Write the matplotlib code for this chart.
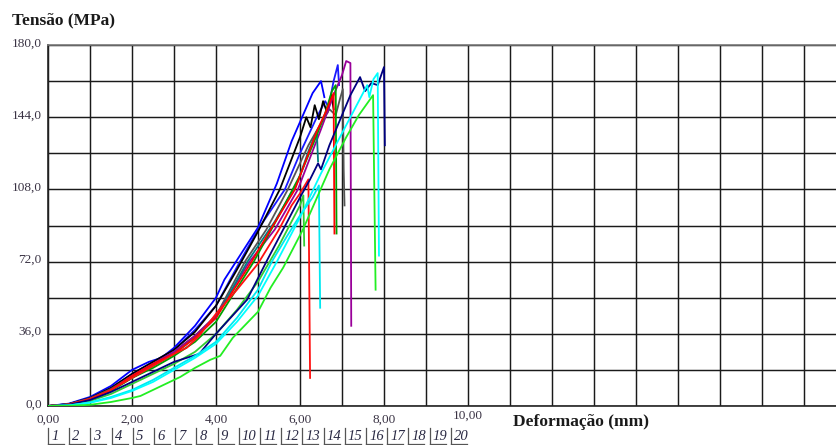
"""
Stress vs. deformation curves (Tensão x Deformação), replotted from a
testing-machine screenshot. One curve per specimen, values read off the image.
"""
import matplotlib
matplotlib.use("Agg")
import matplotlib.pyplot as plt
from matplotlib.ticker import MultipleLocator

SERIF = ["Liberation Serif", "DejaVu Serif"]
W, H = 837, 445

# ── Data (mm, MPa) ──────────────────────────────────────────────
blue1_x = [0, 0.5, 1.0, 1.5, 2.0, 2.4, 2.7, 3.0, 3.5, 4.0, 4.2, 4.6, 5.0, 5.45, 5.8, 6.05, 6.3, 6.5, 6.58]
blue1_y = [0, 1.2, 4.5, 10, 18, 22, 24, 29, 40, 54, 63, 76, 89, 111, 132, 144, 156, 162, 154]

blue2_x = [0, 0.5, 1.0, 1.5, 2.0, 2.5, 3.0, 3.5, 4.0, 4.57, 5.0, 5.64, 6.0, 6.4, 6.6, 6.68, 6.8, 6.9, 6.93]
blue2_y = [0, 1.0, 4.0, 9, 16, 22, 28, 38, 50, 72, 88, 108, 126, 144, 152, 149, 162, 170, 160]

black1_x = [0, 0.5, 1.0, 1.5, 2.0, 2.5, 3.0, 3.5, 4.0, 4.5, 5.0, 5.52, 6.0, 6.15, 6.25, 6.35, 6.45, 6.55, 6.65, 6.75, 6.8]
black1_y = [0, 1.0, 4.0, 9, 16, 22, 28, 37, 50, 68, 87, 108, 134, 144, 139, 150, 143, 152, 146, 155, 148]

gray_x = [0, 0.5, 1.0, 1.5, 2.0, 2.5, 3.0, 3.5, 4.0, 4.69, 5.2, 5.71, 6.2, 6.5, 6.7, 6.85, 6.95, 7.02, 7.04, 7.06]
gray_y = [0, 0.9, 3.8, 8.5, 15, 21, 27, 35, 45, 72, 88, 108, 130, 141, 148, 145, 153, 158, 118, 100]

red1_x = [0, 0.5, 1.0, 1.5, 2.0, 2.5, 3.0, 3.5, 4.0, 4.85, 5.3, 5.88, 6.4, 6.6, 6.8, 6.82]
red1_y = [0, 0.8, 3.5, 8, 15, 21, 26, 34, 44, 72, 88, 108, 137, 146, 156, 86]

red2_x = [0, 0.5, 1.0, 1.5, 2.0, 2.5, 3.0, 3.3, 3.6, 4.0, 4.5, 5.0, 5.5, 5.8, 6.0, 6.2, 6.24]
red2_y = [0, 0.7, 3.5, 8, 14, 20, 26, 29, 35, 46, 58, 71, 88, 100, 106, 113, 14]

purple_x = [0, 0.5, 1.0, 1.5, 2.0, 2.5, 3.0, 3.5, 4.0, 4.8, 5.4, 5.95, 6.5, 6.8, 7.0, 7.1, 7.2, 7.22]
purple_y = [0, 0.8, 3.6, 8, 15, 21, 27, 35, 45, 72, 88, 108, 138, 155, 165, 172, 171, 40]

teal_x = [0, 0.5, 1.0, 1.5, 2.0, 2.5, 3.0, 3.5, 4.0, 4.75, 5.4, 5.95, 6.2, 6.4, 6.43]
teal_y = [0, 0.8, 3.5, 8, 14, 20, 26, 34, 44, 72, 92, 112, 127, 137, 122]

dgreen_x = [0, 0.5, 1.0, 1.5, 2.0, 2.5, 3.0, 3.5, 4.0, 4.9, 5.5, 6.0, 6.4, 6.6, 6.76, 6.85, 6.87]
dgreen_y = [0, 0.7, 3.3, 7.5, 14, 19, 25, 32, 42, 72, 95, 115, 135, 146, 157, 160, 86]

mgreen_x = [0, 0.5, 1.0, 1.5, 2.0, 2.5, 3.0, 3.5, 4.0, 4.5, 5.0, 5.5, 5.8, 6.0, 6.08, 6.1]
mgreen_y = [0, 0.5, 2.5, 6, 11, 16, 21, 27, 36, 48, 62, 80, 92, 100, 105, 80]

navy_x = [0, 0.5, 1.0, 1.5, 2.0, 2.5, 3.0, 3.6, 4.0, 4.74, 5.2, 5.6, 6.0, 6.24, 6.43, 6.5, 6.7, 7.0, 7.2, 7.43, 7.55, 7.7, 7.85, 8.0, 8.02]
navy_y = [0, 0.6, 3.0, 7, 12, 17, 22, 26, 36, 53, 72, 88, 104, 113, 121, 118, 130, 145, 155, 164, 157, 161, 160, 169, 130]

cyan1_x = [0, 0.5, 1.0, 1.5, 2.0, 2.5, 3.0, 3.5, 4.0, 4.5, 5.0, 5.33, 5.7, 6.0, 6.3, 6.45, 6.48]
cyan1_y = [0, 0.3, 1.8, 4.5, 8, 13, 19, 25, 32, 44, 58, 72, 85, 95, 104, 110, 49]

cyan2_x = [0, 0.5, 1.0, 1.5, 2.0, 2.5, 3.0, 3.5, 4.0, 4.5, 5.0, 5.45, 6.0, 6.5, 7.0, 7.3, 7.5, 7.6, 7.65, 7.75, 7.85, 7.88]
cyan2_y = [0, 0.3, 1.6, 4, 7.5, 12, 18, 24, 31, 42, 55, 72, 94, 116, 136, 148, 156, 160, 154, 163, 166, 75]

lime_x = [0, 0.5, 1.0, 1.5, 2.0, 2.2, 2.7, 3.15, 3.5, 3.86, 4.1, 4.4, 5.0, 5.3, 5.6, 6.07, 6.7, 7.1, 7.4, 7.74, 7.8]
lime_y = [0, 0.1, 0.6, 2.0, 4, 5, 10, 14.5, 19, 23, 25, 34, 47, 59, 69, 88, 118, 134, 145, 155, 58]

CURVES = [
    (blue1_x, blue1_y, "#0000ff"),
    (blue2_x, blue2_y, "#1a1aff"),
    (black1_x, black1_y, "#000000"),
    (gray_x, gray_y, "#555555"),
    (purple_x, purple_y, "#990099"),
    (teal_x, teal_y, "#008080"),
    (dgreen_x, dgreen_y, "#00a000"),
    (red1_x, red1_y, "#ff0000"),
    (red2_x, red2_y, "#ff1010"),
    (mgreen_x, mgreen_y, "#33cc33"),
    (navy_x, navy_y, "#000080"),
    (cyan1_x, cyan1_y, "#00e8f0"),
    (cyan2_x, cyan2_y, "#00ffff"),
    (lime_x, lime_y, "#22ee22"),
]

Y_TICKS = [0, 36, 72, 108, 144, 180]
Y_LABELS = ["0,0", "36,0", "72,0", "108,0", "144,0", "180,0"]
X_TICKS = [0, 2, 4, 6, 8, 10]
X_LABELS = ["0,00", "2,00", "4,00", "6,00", "8,00", "10,00"]
SERIES = [str(i) for i in range(1, 21)]

# ── Figure ──────────────────────────────────────────────────────
fig = plt.figure(figsize=(W / 100, H / 100), dpi=100)
x0, x1, y_top, y_bot = 48, 837, 45, 406
ax = fig.add_axes([x0 / W, 1 - y_bot / H, (x1 - x0) / W, (y_bot - y_top) / H])
ax.set_xlim(0, (x1 - x0) / 42.0)
ax.set_ylim(0, 180)

ax.xaxis.set_major_locator(MultipleLocator(1))
ax.yaxis.set_major_locator(MultipleLocator(18))
ax.grid(True, color="#1a1a1a", linewidth=1.05, zorder=0)
ax.tick_params(length=0, labelbottom=False, labelleft=False)
for s in ["left", "bottom", "top"]:
    ax.spines[s].set_color("#222222")
    ax.spines[s].set_linewidth(1.2)
ax.spines["top"].set_color("#777777")
ax.spines["right"].set_visible(False)

for xs, ys, c in CURVES:
    ax.plot(xs, ys, color=c, linewidth=1.3, zorder=3)

tick_color = "#3a3344"
for v, lab in zip(Y_TICKS, Y_LABELS):
    ax.text(-0.15, v + 0.8, lab, transform=ax.transData, ha="right", va="center",
            fontsize=9.5, family=SERIF, color=tick_color)
for v, lab in zip(X_TICKS, X_LABELS):
    dy = -10 if v < 10 else -7
    ax.annotate(lab, (v, 0), xytext=(0, dy), textcoords="offset points",
                xycoords=("data", "axes fraction"), ha="center", va="center",
                fontsize=9.5, family=SERIF, color=tick_color)

fig.text(12 / W, 1 - 20 / H, "Tensão (MPa)", ha="left", va="center",
         fontsize=12.5, fontweight="bold", family=SERIF, color="#1a1a1a")
fig.text(513 / W, 1 - 422 / H, "Deformação (mm)", ha="left", va="center",
         fontsize=12.5, fontweight="bold", family=SERIF, color="#1a1a1a")

# numbered series buttons under the axis
for i, lab in enumerate(SERIES):
    px = 48 + 21.2 * i
    fig.text((px + 3) / W, 1 - 436 / H, lab, ha="left", va="center",
             fontsize=10.5, style="italic", family=SERIF, color="#2a2a44")
    fig.add_artist(plt.Line2D([px / W, px / W], [1 - 428 / H, 1 - 444 / H],
                              transform=fig.transFigure, color="#555555", linewidth=0.9))
    fig.add_artist(plt.Line2D([px / W, (px + 16) / W], [1 - 444 / H, 1 - 444 / H],
                              transform=fig.transFigure, color="#555555", linewidth=0.9))

fig.savefig("out.png", dpi=100)
